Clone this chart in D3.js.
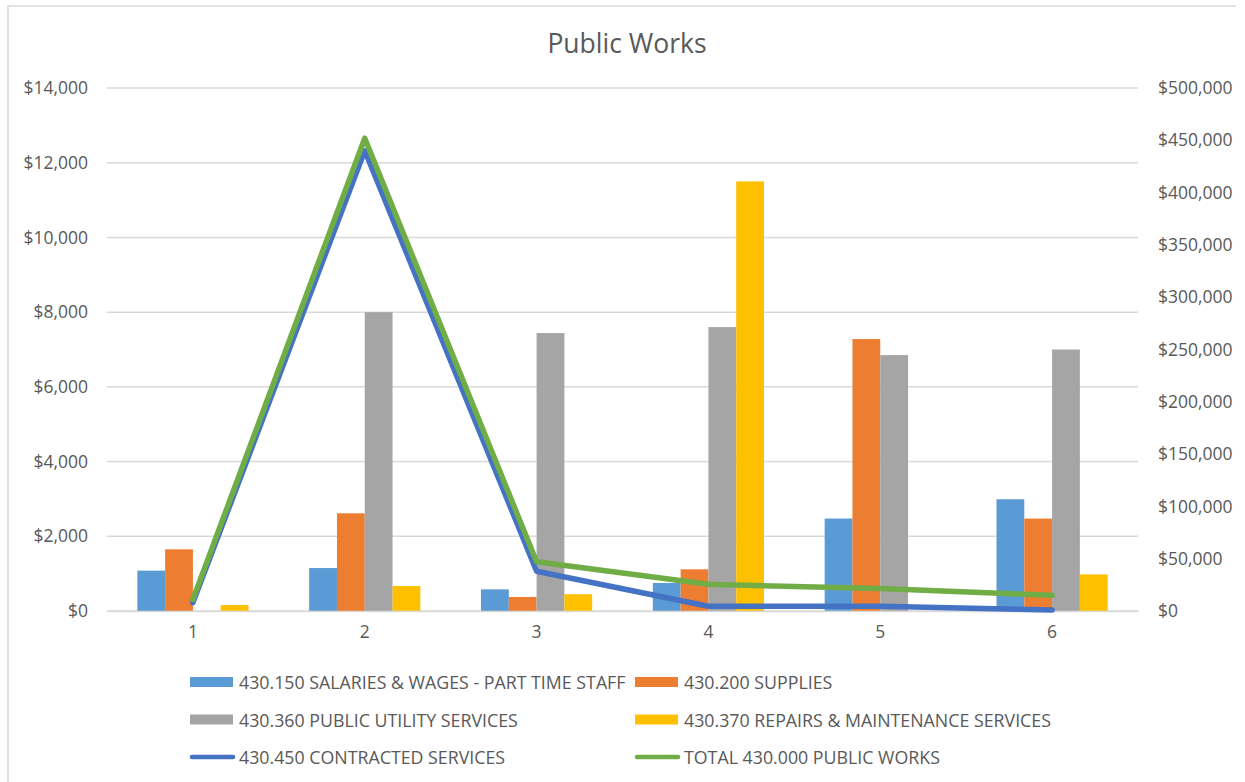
<!DOCTYPE html>
<html>
<head>
<meta charset="utf-8">
<script src="https://cdn.jsdelivr.net/npm/d3@7"></script>
<style>
  html, body { margin: 0; padding: 0; background: #fff; }
  svg { display: block; }
  text { font-family: "Open Sans", "Noto Sans", sans-serif; fill: #595959; }
</style>
</head>
<body>
<svg id="chart" width="1245" height="782"></svg>
<script>
// Monthly spending, Public Works department
const categories = ["1", "2", "3", "4", "5", "6"];

const salariesPartTime = [1080, 1150, 580, 750, 2475, 2990];
const supplies         = [1650, 2615, 375, 1115, 7280, 2475];
const publicUtility    = [0, 8000, 7440, 7600, 6850, 7000];
const repairsMaint     = [160, 670, 450, 11500, 0, 980];

const contracted       = [8000, 440000, 38000, 4500, 4500, 1000];
const totalPublicWorks = [11000, 452000, 47000, 25500, 21400, 15000];

const leftTicks  = [0, 2000, 4000, 6000, 8000, 10000, 12000, 14000];
const rightTicks = [0, 50000, 100000, 150000, 200000, 250000, 300000, 350000, 400000, 450000, 500000];

const barSeries = [
  { name: "430.150 SALARIES & WAGES - PART TIME STAFF", values: salariesPartTime, color: "#5B9BD5" },
  { name: "430.200 SUPPLIES", values: supplies, color: "#ED7D31" },
  { name: "430.360 PUBLIC UTILITY SERVICES", values: publicUtility, color: "#A5A5A5" },
  { name: "430.370 REPAIRS & MAINTENANCE SERVICES", values: repairsMaint, color: "#FFC000" }
];
const lineSeries = [
  { name: "430.450 CONTRACTED SERVICES", values: contracted, color: "#4472C4" },
  { name: "TOTAL 430.000 PUBLIC WORKS", values: totalPublicWorks, color: "#70AD47" }
];

const svg = d3.select("#chart");
const plot = { left: 107, right: 1138, top: 88, bottom: 611 };

// chart frame
svg.append("path")
  .attr("d", "M8,782 L8,6 L1236,6")
  .attr("fill", "none")
  .attr("stroke", "#d9d9d9")
  .attr("stroke-width", 1.5);

svg.append("text")
  .attr("x", 627).attr("y", 43)
  .attr("text-anchor", "middle")
  .attr("dominant-baseline", "central")
  .style("font-size", "26.5px")
  .text("Public Works");

const x = d3.scaleBand().domain(categories).range([plot.left, plot.right])
  .paddingInner(0.353).paddingOuter(0.1765);
const xInner = d3.scaleBand().domain(d3.range(barSeries.length)).range([0, x.bandwidth()]);
const yL = d3.scaleLinear().domain([0, 14000]).range([plot.bottom, plot.top]);
const yR = d3.scaleLinear().domain([0, 500000]).range([plot.bottom, plot.top]);

const fmt = d => "$" + d3.format(",")(d);

// gridlines (primary axis)
svg.append("g").selectAll("line").data(leftTicks).join("line")
  .attr("x1", plot.left).attr("x2", plot.right)
  .attr("y1", d => yL(d)).attr("y2", d => yL(d))
  .attr("stroke", "#d9d9d9").attr("stroke-width", 1.5);

// left axis labels
const axL = svg.append("g").attr("transform", `translate(${plot.left},0)`)
  .call(d3.axisLeft(yL).tickValues(leftTicks).tickFormat(fmt).tickSize(0).tickPadding(19));
axL.select(".domain").remove();
axL.selectAll("text").style("font-size", "17.5px").attr("fill", "#595959").style("font-family", null);

// right axis labels
const axR = svg.append("g").attr("transform", `translate(${plot.right},0)`)
  .call(d3.axisRight(yR).tickValues(rightTicks).tickFormat(fmt).tickSize(0).tickPadding(20));
axR.select(".domain").remove();
axR.selectAll("text").style("font-size", "17.5px").attr("fill", "#595959").style("font-family", null);

// bars
const groups = svg.append("g").selectAll("g").data(categories).join("g")
  .attr("transform", d => `translate(${x(d)},0)`);
groups.selectAll("rect")
  .data((c, i) => barSeries.map((s, k) => ({ k, v: s.values[i], color: s.color })))
  .join("rect")
  .attr("x", d => xInner(d.k))
  .attr("width", xInner.bandwidth())
  .attr("y", d => yL(d.v))
  .attr("height", d => yL(0) - yL(d.v))
  .attr("fill", d => d.color);

// category axis
const axX = svg.append("g").attr("transform", `translate(0,${plot.bottom})`)
  .call(d3.axisBottom(x).tickSize(0).tickPadding(15));
axX.select(".domain").attr("stroke", "#d9d9d9").attr("stroke-width", 1.5);
axX.selectAll("text").style("font-size", "17.5px").attr("fill", "#595959").style("font-family", null);

// lines (secondary axis)
const line = d3.line()
  .x((d, i) => x(categories[i]) + x.bandwidth() / 2)
  .y(d => yR(d));
svg.append("g").selectAll("path").data(lineSeries).join("path")
  .attr("d", d => line(d.values))
  .attr("fill", "none")
  .attr("stroke", d => d.color)
  .attr("stroke-width", 5.5)
  .attr("stroke-linejoin", "round")
  .attr("stroke-linecap", "round");

// legend
const legendItems = [
  { s: barSeries[0], type: "bar", col: 0, row: 0 },
  { s: barSeries[1], type: "bar", col: 1, row: 0 },
  { s: barSeries[2], type: "bar", col: 0, row: 1 },
  { s: barSeries[3], type: "bar", col: 1, row: 1 },
  { s: lineSeries[0], type: "line", col: 0, row: 2 },
  { s: lineSeries[1], type: "line", col: 1, row: 2 }
];
const colX = [190, 635];
const rowY = [682, 719.5, 757];
const lg = svg.append("g").selectAll("g").data(legendItems).join("g")
  .attr("transform", d => `translate(${colX[d.col]},${rowY[d.row]})`);
lg.filter(d => d.type === "bar").append("rect")
  .attr("x", 0).attr("y", -5).attr("width", 43).attr("height", 10)
  .attr("fill", d => d.s.color);
lg.filter(d => d.type === "line").append("line")
  .attr("x1", 2).attr("x2", 43).attr("y1", 0).attr("y2", 0)
  .attr("stroke", d => d.s.color).attr("stroke-width", 4.5)
  .attr("stroke-linecap", "round");
lg.append("text")
  .attr("x", 49).attr("y", 0)
  .attr("dominant-baseline", "central")
  .style("font-size", "17.8px")
  .text(d => d.s.name);
</script>
</body>
</html>
